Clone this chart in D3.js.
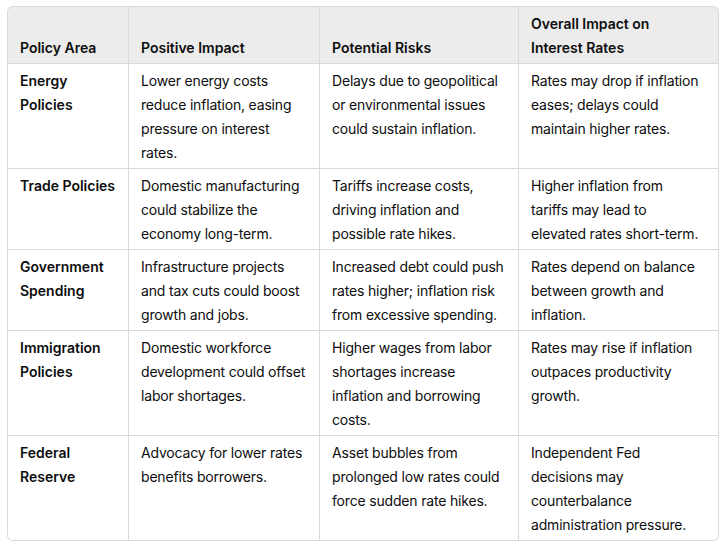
<!DOCTYPE html>
<html><head><meta charset="utf-8">
<script src="https://cdn.jsdelivr.net/npm/d3@7"></script>
<style>html,body{margin:0;padding:0;background:#fff;}svg{display:block;}</style>
</head><body>
<svg id="c" width="725" height="546"></svg>
<script>
const headers = [["Policy Area"], ["Positive Impact"], ["Potential Risks"], ["Overall Impact on", "Interest Rates"]];
const policyAreas = [["Energy", "Policies"], ["Trade Policies"], ["Government", "Spending"], ["Immigration", "Policies"], ["Federal", "Reserve"]];
const positiveImpact = [
  ["Lower energy costs", "reduce inflation, easing", "pressure on interest", "rates."],
  ["Domestic manufacturing", "could stabilize the", "economy long-term."],
  ["Infrastructure projects", "and tax cuts could boost", "growth and jobs."],
  ["Domestic workforce", "development could offset", "labor shortages."],
  ["Advocacy for lower rates", "benefits borrowers."]
];
const potentialRisks = [
  ["Delays due to geopolitical", "or environmental issues", "could sustain inflation."],
  ["Tariffs increase costs,", "driving inflation and", "possible rate hikes."],
  ["Increased debt could push", "rates higher; inflation risk", "from excessive spending."],
  ["Higher wages from labor", "shortages increase", "inflation and borrowing", "costs."],
  ["Asset bubbles from", "prolonged low rates could", "force sudden rate hikes."]
];
const overallImpact = [
  ["Rates may drop if inflation", "eases; delays could", "maintain higher rates."],
  ["Higher inflation from", "tariffs may lead to", "elevated rates short-term."],
  ["Rates depend on balance", "between growth and", "inflation."],
  ["Rates may rise if inflation", "outpaces productivity", "growth."],
  ["Independent Fed", "decisions may", "counterbalance", "administration pressure."]
];

(function(){
const svg = d3.select("#c");
const L = 7.5, R = 718.5, T = 6.5;
const colEdges = [L, 128.5, 319.5, 518.5, R];
const lineH = 24, padTop = 6, padBot = 3, padX = 13;
const font = "Inter, 'Noto Sans', sans-serif";

const rows = policyAreas.map((p, i) => [p, positiveImpact[i], potentialRisks[i], overallImpact[i]]);
const headerH = d3.max(headers, h => h.length) * lineH + padTop + padBot;
const rowHs = rows.map(r => d3.max(r, c => c.length) * lineH + padTop + padBot);
const rowTops = [T + headerH];
rowHs.forEach((h, i) => rowTops.push(rowTops[i] + h));
const B = rowTops[rowTops.length - 1];

const x = d3.scaleOrdinal().domain([0,1,2,3]).range(colEdges.slice(0,4));
const border = "#d9d9d9";

svg.append("defs").append("clipPath").attr("id","rc").append("rect")
  .attr("x", L).attr("y", T).attr("width", R-L).attr("height", B-T).attr("rx", 5);
const g = svg.append("g").attr("clip-path","url(#rc)");
g.append("rect").attr("x", L).attr("y", T).attr("width", R-L).attr("height", headerH).attr("fill", "#ececec");

g.selectAll("line.h").data(rowTops.slice(0, -1)).join("line")
  .attr("x1", L).attr("x2", R).attr("y1", d => d).attr("y2", d => d)
  .attr("stroke", border).attr("stroke-width", 1);
g.selectAll("line.v").data(colEdges.slice(1, -1)).join("line")
  .attr("x1", d => d).attr("x2", d => d).attr("y1", T).attr("y2", B)
  .attr("stroke", border).attr("stroke-width", 1);

svg.append("rect").attr("x", L).attr("y", T).attr("width", R-L).attr("height", B-T)
  .attr("rx", 5).attr("fill", "none").attr("stroke", border).attr("stroke-width", 1);

function drawCell(lines, col, yTop, hgt, bold, bottomAlign) {
  const n = lines.length;
  const startY = bottomAlign ? yTop + hgt - padBot - n*lineH : yTop + padTop;
  svg.append("g").selectAll("text").data(lines).join("text")
    .attr("x", x(col) - 0.5 + padX)
    .attr("y", (d, i) => startY + i*lineH + lineH/2)
    .attr("dy", "0.35em")
    .attr("font-family", font).attr("font-size", 14)
    .attr("font-weight", bold ? 600 : 400)
    .attr("letter-spacing", bold ? 0 : -0.18)
    .attr("fill", "#0d0d0d")
    .text(d => d);
}
headers.forEach((h, c) => drawCell(h, c, T, headerH, true, true));
rows.forEach((r, i) => r.forEach((cell, c) => drawCell(cell, c, rowTops[i], rowHs[i], c === 0, false)));
})();
</script>
</body></html>
